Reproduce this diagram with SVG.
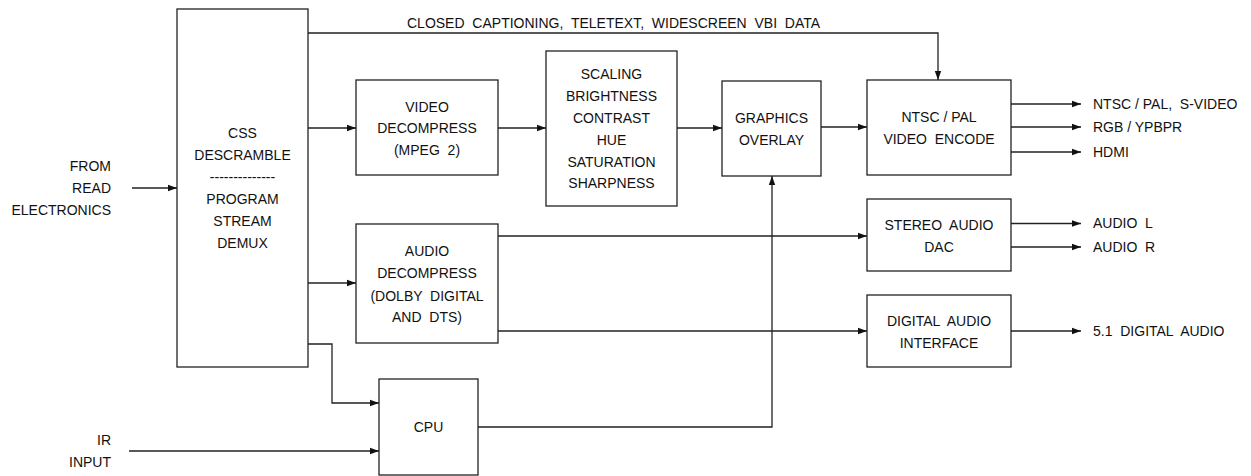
<svg xmlns="http://www.w3.org/2000/svg" width="1251" height="476" viewBox="0 0 1251 476" xml:space="preserve">
<style>
  .box { fill: #ffffff; stroke: #222; stroke-width: 1.3; }
  .wire { fill: none; stroke: #222; stroke-width: 1.3; }
  text { font-family: "Liberation Sans", Arial, sans-serif; font-size: 14px; fill: #111; white-space: pre; }
  .c { text-anchor: middle; }
  .r { text-anchor: end; }
</style>
<defs>
  <marker id="arr" markerUnits="userSpaceOnUse" markerWidth="10" markerHeight="8" refX="9" refY="4" orient="auto">
    <path d="M0,0.8 L9,4 L0,7.2 Z" fill="#111"/>
  </marker>
</defs>
<rect width="1251" height="476" fill="#ffffff"/>

<g id="connectors">
  <path class="wire" d="M132,188 H177" marker-end="url(#arr)"/>
  <path class="wire" d="M308,33 H938 V80" marker-end="url(#arr)"/>
  <path class="wire" d="M308,128 H356" marker-end="url(#arr)"/>
  <path class="wire" d="M498,128 H546" marker-end="url(#arr)"/>
  <path class="wire" d="M677,128 H722" marker-end="url(#arr)"/>
  <path class="wire" d="M821,127 H867" marker-end="url(#arr)"/>
  <path class="wire" d="M1011,104 H1081" marker-end="url(#arr)"/>
  <path class="wire" d="M1011,127 H1081" marker-end="url(#arr)"/>
  <path class="wire" d="M1011,152 H1081" marker-end="url(#arr)"/>
  <path class="wire" d="M308,283 H356" marker-end="url(#arr)"/>
  <path class="wire" d="M498,236 H867" marker-end="url(#arr)"/>
  <path class="wire" d="M498,331 H867" marker-end="url(#arr)"/>
  <path class="wire" d="M1011,223.5 H1081" marker-end="url(#arr)"/>
  <path class="wire" d="M1011,247 H1081" marker-end="url(#arr)"/>
  <path class="wire" d="M1011,331 H1081" marker-end="url(#arr)"/>
  <path class="wire" d="M308,344 H332 V403 H379" marker-end="url(#arr)"/>
  <path class="wire" d="M129,451 H379" marker-end="url(#arr)"/>
  <path class="wire" d="M478,427 H772 V176" marker-end="url(#arr)"/>
</g>

<g id="labels">
  <text x="407" y="28">CLOSED  CAPTIONING,  TELETEXT,  WIDESCREEN  VBI  DATA</text>
  <text class="r" x="111" y="171">FROM</text>
  <text class="r" x="111" y="193">READ</text>
  <text class="r" x="111" y="215">ELECTRONICS</text>
  <text class="r" x="111" y="445">IR</text>
  <text class="r" x="111" y="467">INPUT</text>
  <text x="1093" y="109">NTSC / PAL,  S-VIDEO</text>
  <text x="1093" y="132">RGB / YPBPR</text>
  <text x="1093" y="157">HDMI</text>
  <text x="1093" y="228">AUDIO  L</text>
  <text x="1093" y="252">AUDIO  R</text>
  <text x="1093" y="336">5.1  DIGITAL  AUDIO</text>
</g>

<g id="css">
  <rect class="box" x="177" y="9" width="131" height="358"/>
  <text class="c" x="242.5" y="138">CSS</text>
  <text class="c" x="242.5" y="160">DESCRAMBLE</text>
  <text class="c" x="242.5" y="182">--------------</text>
  <text class="c" x="242.5" y="204">PROGRAM</text>
  <text class="c" x="242.5" y="226">STREAM</text>
  <text class="c" x="242.5" y="248">DEMUX</text>
</g>

<g id="video">
  <rect class="box" x="356" y="80" width="142" height="95"/>
  <text class="c" x="427" y="112">VIDEO</text>
  <text class="c" x="427" y="133">DECOMPRESS</text>
  <text class="c" x="427" y="155">(MPEG  2)</text>
</g>

<g id="scaling">
  <rect class="box" x="546" y="51" width="131" height="155"/>
  <text class="c" x="611.5" y="79">SCALING</text>
  <text class="c" x="611.5" y="101">BRIGHTNESS</text>
  <text class="c" x="611.5" y="123">CONTRAST</text>
  <text class="c" x="611.5" y="145">HUE</text>
  <text class="c" x="611.5" y="167">SATURATION</text>
  <text class="c" x="611.5" y="188">SHARPNESS</text>
</g>

<g id="graphics">
  <rect class="box" x="722" y="81" width="99" height="95"/>
  <text class="c" x="771.5" y="123">GRAPHICS</text>
  <text class="c" x="771.5" y="145">OVERLAY</text>
</g>

<g id="encode">
  <rect class="box" x="867" y="80" width="144" height="95"/>
  <text class="c" x="939" y="122">NTSC / PAL</text>
  <text class="c" x="939" y="144">VIDEO  ENCODE</text>
</g>

<g id="audio">
  <rect class="box" x="356" y="224" width="142" height="119"/>
  <text class="c" x="427" y="256">AUDIO</text>
  <text class="c" x="427" y="278">DECOMPRESS</text>
  <text class="c" x="427" y="301">(DOLBY  DIGITAL</text>
  <text class="c" x="427" y="322">AND  DTS)</text>
</g>

<g id="dac">
  <rect class="box" x="867" y="199" width="144" height="72"/>
  <text class="c" x="939" y="230">STEREO  AUDIO</text>
  <text class="c" x="939" y="252">DAC</text>
</g>

<g id="dai">
  <rect class="box" x="867" y="295" width="144" height="72"/>
  <text class="c" x="939" y="326">DIGITAL  AUDIO</text>
  <text class="c" x="939" y="348">INTERFACE</text>
</g>

<g id="cpu">
  <rect class="box" x="379" y="379" width="99" height="96"/>
  <text class="c" x="428.5" y="432">CPU</text>
</g>
</svg>
